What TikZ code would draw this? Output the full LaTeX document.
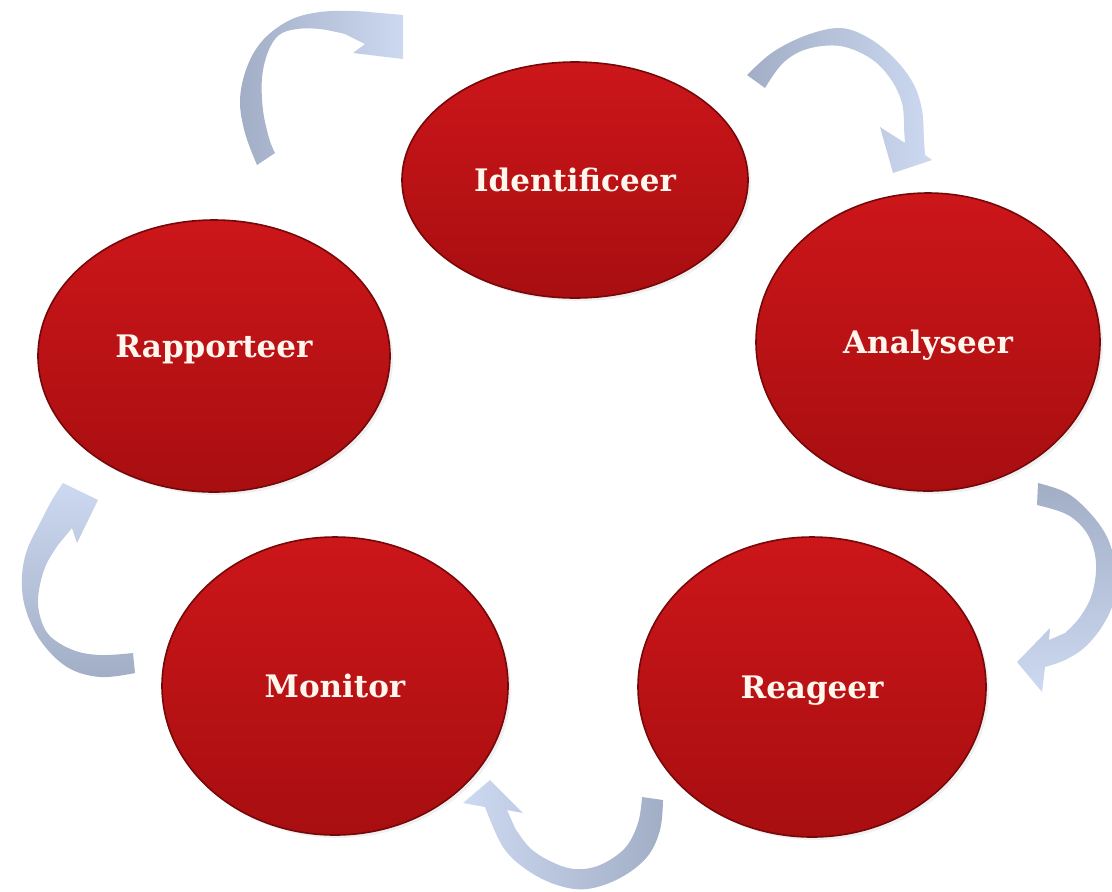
\documentclass[tikz,border=0pt]{standalone}
\usepackage{fontspec}
\setmainfont{DejaVu Serif}
\usetikzlibrary{shapes.geometric,shadows}
\definecolor{redtop}{RGB}{204,22,26}
\definecolor{redbot}{RGB}{168,14,16}
\definecolor{rededge}{RGB}{118,8,10}
\definecolor{arrdark}{RGB}{162,174,198}
\definecolor{arrlight}{RGB}{204,217,240}
\definecolor{txt}{RGB}{255,246,238}
\tikzset{
  stage/.style={ellipse, top color=redtop, bottom color=redbot, draw=rededge,
    line width=0.8pt, inner sep=0pt, text=txt,
    font=\fontsize{15.5pt}{18pt}\selectfont\bfseries,
    text height=11pt, text depth=0pt,
    drop shadow={opacity=0.12, shadow xshift=1.5pt, shadow yshift=-1.5pt}},
  band/.style={smooth, tension=0.6},
}
\begin{document}
\begin{tikzpicture}[x=0.5pt,y=-0.5pt]
\useasboundingbox (0,0) rectangle (1112,891);
\clip (0,0) rectangle (1112,891);

% stages
\node[stage, minimum width=173pt, minimum height=118pt] (ident) at (575,180) {Identificeer};
\node[stage, minimum width=176pt, minimum height=136pt] (rapp) at (214,356) {\raisebox{5pt}{Rapporteer}};
\node[stage, minimum width=172pt, minimum height=149pt] (anal) at (928,342) {Analyseer};
\node[stage, minimum width=173pt, minimum height=149pt] (moni) at (335,686) {Monitor};
\node[stage, minimum width=174pt, minimum height=150pt] (reag) at (812,687) {Reageer};

% arrow 1: Rapporteer -> Identificeer
\shade[left color=arrdark, right color=arrlight]
  plot[band] coordinates {(257,165) (245,133) (240,100) (247,67) (263,40) (290,20) (320,12) (353,11) (380,13) (403,15)}
  -- (403,59) -- (353,53) -- (365,44)
  -- plot[band] coordinates {(345,34) (320,29) (297,29) (279,35) (268,52) (262,78) (263,110) (269,138) (275,153)}
  -- cycle;

% arrow 2: Identificeer -> Analyseer
\shade[left color=arrdark, right color=arrlight]
  plot[band] coordinates {(747,75) (773,52) (807,35) (840,28) (867,37) (893,57) (913,83) (922,110) (924,140) (925,155)}
  -- (932,160) -- (893,173) -- (880,127) -- (905,143)
  -- plot[band] coordinates {(904,128) (902,103) (890,78) (870,58) (840,46) (807,49) (783,63) (765,88)}
  -- cycle;

% arrow 3: Analyseer -> Reageer
\shade[top color=arrdark, bottom color=arrlight]
  plot[band] coordinates {(1038,483) (1067,493) (1090,513) (1107,537) (1115,565) (1115,597) (1103,625) (1085,647) (1065,660) (1045,667)}
  -- (1042,692) -- (1017,662) -- (1050,628) -- (1049,640)
  -- plot[band] coordinates {(1065,633) (1080,617) (1092,594) (1096,563) (1088,535) (1068,515) (1037,505)}
  -- cycle;

% arrow 4: Reageer -> Monitor
\shade[left color=arrlight, right color=arrdark]
  plot[band] coordinates {(663,800) (660,830) (647,857) (620,878) (587,889) (557,885) (527,870) (503,847) (485,807)}
  -- (463,803) -- (490,780) -- (523,813) -- (507,810)
  -- plot[band] coordinates {(515,828) (530,848) (552,862) (575,869) (600,865) (625,848) (638,823) (642,797)}
  -- cycle;

% arrow 5: Monitor -> Rapporteer
\shade[top color=arrlight, bottom color=arrdark]
  plot[band] coordinates {(135,673) (100,677) (67,667) (40,640) (25,607) (22,577) (27,550) (40,523) (52,500) (63,483)}
  -- (98,500) -- (77,543) -- (72,528)
  -- plot[band] coordinates {(58,545) (46,565) (39,590) (39,612) (49,635) (73,650) (100,655) (133,653)}
  -- cycle;
\end{tikzpicture}
\end{document}
